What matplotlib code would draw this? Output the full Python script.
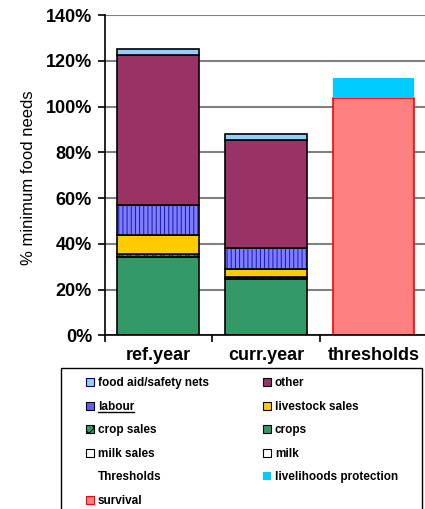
import numpy as np
import matplotlib.pyplot as plt
from matplotlib.patches import Patch, Rectangle
from matplotlib.lines import Line2D

# data (% of minimum food needs)
categories = ['ref.year', 'curr.year', 'thresholds']
crops = [34.1, 24.5]
crop_sales = [1.6, 1.1]
livestock_sales = [8.0, 3.4]
labour = [13.3, 9.0]
other = [65.6, 47.6]
food_aid = [2.5, 2.6]
milk = [0.0, 0.0]
milk_sales = [0.0, 0.0]
survival = [103.7]
livelihoods_protection = [8.6]

plt.rcParams['font.family'] = ['Liberation Sans', 'DejaVu Sans']
plt.rcParams['hatch.linewidth'] = 0.7

fig = plt.figure(figsize=(4.25, 5.09), dpi=100)
ax = fig.add_axes([0.246, 0.341, 0.754, 0.6295])

w = 0.76
x = np.arange(2)
# name, values, face, hatch, hatch colour
series = [
    ('crops', crops, '#339966', None, None),
    ('crop sales', crop_sales, '#339966', 'xxxx', '#003300'),
    ('livestock sales', livestock_sales, '#FFCC00', None, None),
    ('labour', labour, '#8080F0', '||||', '#1010E0'),
    ('other', other, '#993366', None, None),
    ('food aid/safety nets', food_aid, '#99CCFF', None, None),
]
bottom = np.zeros(2)
for name, vals, face, hatch, hcol in series:
    vals = np.array(vals)
    if hatch:
        ax.bar(x, vals, w, bottom=bottom, color=face, edgecolor=hcol, hatch=hatch, lw=0)
        ax.bar(x, vals, w, bottom=bottom, facecolor='none', edgecolor='black', lw=1.2)
    else:
        ax.bar(x, vals, w, bottom=bottom, color=face, edgecolor='black', lw=1.2)
    bottom += vals

ax.bar([2], survival, w, color='#FF8080', edgecolor='red', lw=1.2)
ax.bar([2], livelihoods_protection, w, bottom=survival, color='#00CCFF', lw=0)

ax.set_xlim(-0.5, 2.48)
ax.set_ylim(0, 140)
ax.set_axisbelow(True)
ax.yaxis.grid(True, color='#808080', lw=1.5)
ax.spines['top'].set_visible(False)
ax.spines['right'].set_visible(False)
ax.spines['left'].set_linewidth(1.2)
ax.spines['bottom'].set_linewidth(1.2)

yt = np.arange(0, 141, 20)
ax.set_yticks(yt, [f'{v}%' for v in yt], fontsize=13, fontweight='bold')
ax.tick_params(axis='y', direction='out', length=5, width=1.2, pad=4)
ax.set_xticks([0, 1, 2], categories, fontsize=13, fontweight='bold')
ax.set_xticks([-0.5, 0.5, 1.5], minor=True)
ax.tick_params(axis='x', which='major', length=0, pad=8)
ax.tick_params(axis='x', which='minor', direction='out', length=5, width=1.2)

ax.set_ylabel('% minimum food needs', fontsize=12)
ax.yaxis.set_label_coords(-0.215, 0.493)

# legend, laid out row by row as in the original
entries = [
    (Patch(facecolor='#99CCFF', edgecolor='#000080', lw=0.8), 'food aid/safety nets'),
    (Patch(facecolor='#993366', edgecolor='black', lw=0.8), 'other'),
    (Patch(facecolor='#6060F0', edgecolor='black', lw=0.8), 'labour'),
    (Patch(facecolor='#FFCC00', edgecolor='black', lw=0.8), 'livestock sales'),
    (Patch(facecolor='#339966', edgecolor='black', hatch='xxx', lw=0.8), 'crop sales'),
    (Patch(facecolor='#339966', edgecolor='black', lw=0.8), 'crops'),
    (Patch(facecolor='white', edgecolor='black', lw=0.8), 'milk sales'),
    (Patch(facecolor='white', edgecolor='black', lw=0.8), 'milk'),
    (Patch(facecolor='none', edgecolor='none'), 'Thresholds'),
    (Patch(facecolor='#00CCFF', edgecolor='none'), 'livelihoods protection'),
    (Patch(facecolor='#FF8080', edgecolor='red', lw=0.8), 'survival'),
]
ordered = entries[0::2] + entries[1::2]
leg = fig.legend([h for h, _ in ordered], [l for _, l in ordered], ncol=2,
                 loc='upper left', bbox_to_anchor=(86 / 425, 0.259, 312 / 425, 0),
                 mode='expand', frameon=False, borderpad=0, borderaxespad=0,
                 handlelength=0.65, handleheight=0.65, handletextpad=0.35,
                 labelspacing=0.98, prop={'weight': 'bold', 'size': 8.5})
fig.add_artist(Rectangle((61 / 425, -0.05), 361 / 425, 0.327, transform=fig.transFigure,
                         facecolor='none', edgecolor='black', lw=1))

# the "labour" label is underlined in the original
fig.canvas.draw()
bb = leg.get_texts()[1].get_window_extent()
inv = fig.transFigure.inverted()
(x0, y0), (x1, _) = inv.transform([(bb.x0, bb.y0 + 1), (bb.x1, bb.y0 + 1)])
fig.add_artist(Line2D([x0, x1], [y0, y0], transform=fig.transFigure, color='black', lw=1))

fig.savefig('out.png', dpi=100)
